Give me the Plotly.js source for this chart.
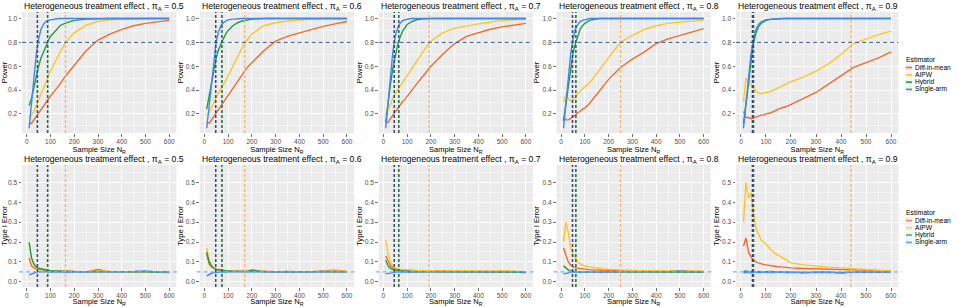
<!DOCTYPE html>
<html><head><meta charset="utf-8">
<script src="https://cdn.plot.ly/plotly-3.0.1.min.js"></script>
<style>html,body{margin:0;padding:0;background:#fff}#chart{width:959px;height:307px}</style>
</head><body><div id="chart"></div>
<script>
// ---------------- DATA ----------------
const sampleSize = [10,20,30,40,50,60,70,80,90,100,120,140,160,180,200,250,300,350,400,450,500,550,600];
const piA = ['0.5','0.6','0.7','0.8','0.9'];
const estimators = ['Diff-in-mean','AIPW','Hybrid','Single-arm'];
const xTicks = [0,100,200,300,400,500,600];
const powerTicks = [0.2,0.4,0.6,0.8,1.0];
const errorTicks = [0.0,0.1,0.2,0.3,0.4,0.5];

// Power, pi_A = 0.5
const power05_diff   = [0.12,0.12,0.15,0.18,0.21,0.24,0.27,0.30,0.33,0.35,0.40,0.45,0.51,0.56,0.61,0.73,0.82,0.87,0.91,0.94,0.96,0.975,0.985];
const power05_aipw   = [0.17,0.19,0.22,0.27,0.32,0.37,0.42,0.47,0.52,0.56,0.64,0.72,0.79,0.84,0.88,0.945,0.975,0.99,0.995,1,1,1,1];
const power05_hybrid = [0.27,0.33,0.42,0.52,0.60,0.67,0.72,0.77,0.81,0.85,0.90,0.94,0.96,0.975,0.985,0.995,1,1,1,1,1,1,1];
const power05_single = [0.08,0.28,0.50,0.70,0.83,0.91,0.95,0.975,0.985,0.99,0.996,1,1,1,1,1,1,1,1,1,1,1,1];
// Power, pi_A = 0.6
const power06_diff   = [0.13,0.12,0.15,0.18,0.21,0.24,0.27,0.29,0.32,0.35,0.41,0.47,0.53,0.59,0.63,0.73,0.81,0.85,0.88,0.91,0.935,0.955,0.975];
const power06_aipw   = [0.19,0.21,0.25,0.30,0.34,0.38,0.41,0.44,0.48,0.52,0.60,0.68,0.76,0.82,0.87,0.94,0.965,0.98,0.99,0.995,1,1,1];
const power06_hybrid = [0.24,0.35,0.47,0.58,0.67,0.74,0.79,0.83,0.87,0.90,0.94,0.965,0.98,0.99,0.995,1,1,1,1,1,1,1,1];
const power06_single = [0.08,0.27,0.47,0.67,0.81,0.89,0.94,0.965,0.98,0.99,0.995,1,1,1,1,1,1,1,1,1,1,1,1];
// Power, pi_A = 0.7
const power07_diff   = [0.13,0.13,0.16,0.19,0.22,0.25,0.28,0.30,0.32,0.35,0.40,0.45,0.50,0.56,0.60,0.70,0.79,0.85,0.88,0.91,0.93,0.945,0.96];
const power07_aipw   = [0.19,0.24,0.29,0.33,0.37,0.40,0.43,0.46,0.50,0.53,0.58,0.64,0.70,0.76,0.81,0.88,0.92,0.94,0.955,0.97,0.985,0.99,0.995];
const power07_hybrid = [0.13,0.30,0.45,0.58,0.69,0.78,0.84,0.89,0.92,0.95,0.975,0.99,0.995,1,1,1,1,1,1,1,1,1,1];
const power07_single = [0.08,0.30,0.52,0.72,0.85,0.92,0.96,0.98,0.99,0.995,1,1,1,1,1,1,1,1,1,1,1,1,1];
// Power, pi_A = 0.8
const power08_diff   = [0.18,0.15,0.15,0.16,0.18,0.19,0.21,0.22,0.24,0.25,0.29,0.34,0.39,0.44,0.49,0.59,0.66,0.72,0.79,0.83,0.86,0.89,0.915];
const power08_aipw   = [0.30,0.36,0.33,0.31,0.32,0.35,0.37,0.39,0.41,0.43,0.46,0.51,0.565,0.62,0.67,0.80,0.86,0.91,0.94,0.96,0.97,0.98,0.985];
const power08_hybrid = [0.14,0.28,0.44,0.59,0.71,0.79,0.86,0.91,0.94,0.96,0.985,0.995,1,1,1,1,1,1,1,1,1,1,1];
const power08_single = [0.08,0.28,0.50,0.70,0.83,0.91,0.95,0.975,0.985,0.99,1,1,1,1,1,1,1,1,1,1,1,1,1];
// Power, pi_A = 0.9
const power09_diff   = [0.22,0.17,0.17,0.16,0.165,0.175,0.18,0.19,0.19,0.20,0.21,0.23,0.25,0.26,0.28,0.33,0.38,0.45,0.52,0.59,0.63,0.67,0.72];
const power09_aipw   = [0.30,0.50,0.47,0.44,0.41,0.39,0.375,0.37,0.375,0.38,0.39,0.41,0.43,0.45,0.47,0.51,0.56,0.62,0.70,0.79,0.83,0.865,0.895];
const power09_hybrid = [0.12,0.27,0.45,0.64,0.79,0.88,0.93,0.96,0.975,0.985,0.993,0.997,1,1,1,1,1,1,1,1,1,1,1];
const power09_single = [0.08,0.28,0.50,0.70,0.83,0.91,0.95,0.97,0.98,0.99,0.995,1,1,1,1,1,1,1,1,1,1,1,1];

// Type I error, pi_A = 0.5
const error05_diff   = [0.12,0.08,0.07,0.065,0.062,0.06,0.058,0.056,0.055,0.054,0.056,0.055,0.052,0.053,0.05,0.05,0.062,0.05,0.05,0.048,0.05,0.05,0.045];
const error05_aipw   = [0.19,0.12,0.085,0.07,0.065,0.062,0.06,0.058,0.056,0.055,0.054,0.052,0.053,0.051,0.05,0.05,0.055,0.052,0.05,0.05,0.05,0.05,0.048];
const error05_hybrid = [0.20,0.12,0.09,0.075,0.068,0.065,0.062,0.06,0.058,0.056,0.055,0.053,0.052,0.054,0.05,0.05,0.052,0.05,0.051,0.05,0.05,0.048,0.05];
const error05_single = [0.035,0.04,0.045,0.048,0.05,0.049,0.05,0.051,0.048,0.05,0.049,0.051,0.05,0.048,0.05,0.049,0.05,0.051,0.05,0.052,0.055,0.05,0.05];
// Type I error, pi_A = 0.6
const error06_diff   = [0.14,0.09,0.075,0.068,0.064,0.06,0.058,0.057,0.056,0.055,0.055,0.054,0.056,0.053,0.055,0.052,0.05,0.048,0.05,0.05,0.055,0.058,0.052];
const error06_aipw   = [0.17,0.11,0.085,0.072,0.065,0.062,0.06,0.058,0.056,0.055,0.054,0.053,0.052,0.053,0.054,0.052,0.05,0.05,0.05,0.052,0.053,0.055,0.052];
const error06_hybrid = [0.15,0.10,0.08,0.068,0.062,0.06,0.058,0.056,0.055,0.054,0.053,0.052,0.05,0.052,0.06,0.05,0.05,0.052,0.05,0.05,0.052,0.05,0.05];
const error06_single = [0.03,0.038,0.043,0.046,0.048,0.05,0.049,0.05,0.048,0.05,0.05,0.049,0.05,0.051,0.048,0.05,0.049,0.05,0.05,0.051,0.052,0.05,0.05];
// Type I error, pi_A = 0.7
const error07_diff   = [0.13,0.10,0.08,0.07,0.065,0.062,0.06,0.06,0.058,0.058,0.057,0.056,0.056,0.055,0.055,0.054,0.054,0.053,0.053,0.052,0.052,0.05,0.045];
const error07_aipw   = [0.21,0.14,0.10,0.08,0.07,0.066,0.064,0.062,0.06,0.06,0.058,0.057,0.056,0.055,0.055,0.054,0.056,0.055,0.053,0.054,0.057,0.053,0.05];
const error07_hybrid = [0.11,0.08,0.068,0.062,0.058,0.056,0.055,0.054,0.053,0.052,0.052,0.051,0.05,0.05,0.05,0.05,0.05,0.05,0.05,0.05,0.05,0.05,0.048];
const error07_single = [0.04,0.042,0.045,0.047,0.048,0.05,0.049,0.05,0.05,0.048,0.05,0.049,0.05,0.05,0.051,0.05,0.05,0.052,0.05,0.05,0.053,0.05,0.05];
// Type I error, pi_A = 0.8
const error08_diff   = [0.17,0.13,0.10,0.085,0.075,0.07,0.068,0.065,0.063,0.062,0.06,0.06,0.058,0.058,0.057,0.056,0.055,0.055,0.055,0.054,0.055,0.054,0.052];
const error08_aipw   = [0.20,0.30,0.25,0.17,0.14,0.12,0.10,0.09,0.085,0.08,0.075,0.07,0.068,0.065,0.063,0.06,0.058,0.055,0.057,0.055,0.055,0.055,0.053];
const error08_hybrid = [0.08,0.07,0.06,0.055,0.052,0.05,0.05,0.048,0.05,0.05,0.049,0.05,0.05,0.048,0.05,0.05,0.05,0.05,0.05,0.05,0.05,0.05,0.048];
const error08_single = [0.04,0.043,0.046,0.048,0.05,0.049,0.05,0.05,0.048,0.05,0.05,0.049,0.05,0.048,0.05,0.05,0.05,0.05,0.05,0.05,0.055,0.05,0.05];
// Type I error, pi_A = 0.9
const error09_diff   = [0.18,0.22,0.15,0.125,0.11,0.10,0.095,0.09,0.088,0.085,0.08,0.077,0.075,0.072,0.07,0.067,0.065,0.063,0.06,0.058,0.057,0.056,0.055];
const error09_aipw   = [0.30,0.50,0.42,0.45,0.34,0.27,0.24,0.21,0.20,0.19,0.16,0.14,0.125,0.11,0.095,0.085,0.078,0.074,0.07,0.065,0.06,0.058,0.055];
const error09_hybrid = [0.05,0.055,0.052,0.05,0.051,0.05,0.052,0.05,0.051,0.05,0.052,0.05,0.05,0.051,0.05,0.045,0.05,0.05,0.044,0.05,0.05,0.05,0.05];
const error09_single = [0.045,0.047,0.048,0.046,0.048,0.049,0.047,0.048,0.046,0.048,0.047,0.048,0.049,0.046,0.047,0.048,0.046,0.048,0.047,0.048,0.048,0.047,0.048];

// Sample size at which each estimator reaches 80% power
const cutoffSingle = [45,48,46,48,46];
const cutoffHybrid = [88,74,65,62,50];
const cutoffAipw   = [163,170,193,250,440];
const powerTarget = 0.8;
const alphaLevel = 0.05;

// --------------- STYLE / LAYOUT ---------------
const powerSeries = [
  [power05_diff,power05_aipw,power05_hybrid,power05_single],
  [power06_diff,power06_aipw,power06_hybrid,power06_single],
  [power07_diff,power07_aipw,power07_hybrid,power07_single],
  [power08_diff,power08_aipw,power08_hybrid,power08_single],
  [power09_diff,power09_aipw,power09_hybrid,power09_single]];
const errorSeries = [
  [error05_diff,error05_aipw,error05_hybrid,error05_single],
  [error06_diff,error06_aipw,error06_hybrid,error06_single],
  [error07_diff,error07_aipw,error07_hybrid,error07_single],
  [error08_diff,error08_aipw,error08_hybrid,error08_single],
  [error09_diff,error09_aipw,error09_hybrid,error09_single]];

const lineColors = ['#F26B2C','#FFC524','#1F9E45','#3C88F2'];
const vColors = {single:'#3B4C72', hybrid:'#21704A', aipw:'#F6B46C'};
const W = 959, H = 307;
const panelPx = [[22.1,176.3],[199.7,354.0],[378.7,532.9],[556.5,710.7],[736.1,898.4]];
const rowPx = [[12,133],[165,287]];
const FONT = 'Liberation Sans, Arial, sans-serif';

const traces = [];
const layout = {
  width: W, height: H, margin:{l:0,r:0,t:0,b:0},
  paper_bgcolor:'#fff', plot_bgcolor:'#EBEBEB',
  showlegend:false, font:{family:FONT, color:'#000'},
  annotations:[], shapes:[]
};

for (let row=0; row<2; row++){
  for (let c=0; c<5; c++){
    const idx = row*5 + c + 1;
    const xn = idx===1 ? 'x' : 'x'+idx;
    const yn = idx===1 ? 'y' : 'y'+idx;
    const xk = idx===1 ? 'xaxis' : 'xaxis'+idx;
    const yk = idx===1 ? 'yaxis' : 'yaxis'+idx;
    const series = row===0 ? powerSeries[c] : errorSeries[c];
    series.forEach((vals,k)=>{
      traces.push({type:'scatter', mode:'lines', x:sampleSize, y:vals, xaxis:xn, yaxis:yn,
        name:estimators[k], line:{color:lineColors[k], width:1.4}, hoverinfo:'skip'});
    });
    const xd = [panelPx[c][0]/W, panelPx[c][1]/W];
    const yd = [1-rowPx[row][1]/H, 1-rowPx[row][0]/H];
    layout[xk] = {domain:xd, anchor:yn, range:[-19.5,629.5], tickvals:xTicks, ticktext:xTicks.map(String),
      ticks:'outside', ticklen:2.5, tickwidth:0.7, tickcolor:'#333',
      tickfont:{size:6.5, color:'#4D4D4D', family:FONT},
      showgrid:true, gridcolor:'#FFFFFF', gridwidth:1,
      minor:{dtick:50, tick0:0, showgrid:true, gridcolor:'#FFFFFF', gridwidth:0.5},
      zeroline:false, showline:false, fixedrange:true,
      title:{text:'Sample Size N<sub>R</sub>', font:{size:7.5, color:'#000', family:FONT}, standoff:1}};
    const ticks = row===0 ? powerTicks : errorTicks;
    layout[yk] = {domain:yd, anchor:xn, range: row===0 ? [0.04,1.055] : [-0.026,0.587],
      tickvals:ticks, ticktext:ticks.map(v=>v.toFixed(1)),
      ticks:'outside', ticklen:2.5, tickwidth:0.7, tickcolor:'#333',
      tickfont:{size:6.6, color:'#4D4D4D', family:FONT},
      showgrid:true, gridcolor:'#FFFFFF', gridwidth:1,
      minor:{dtick: row===0 ? 0.1 : 0.05, tick0:0, showgrid:true, gridcolor:'#FFFFFF', gridwidth:0.5},
      zeroline:false, showline:false, fixedrange:true,
      title:{text: row===0 ? 'Power' : 'Type I Error', font:{size:7.6, color:'#000', family:FONT}, standoff:1}};
    // panel title
    layout.annotations.push({xref:'paper', yref:'paper', x:xd[0], y:1-(row===0?6.5:159)/H,
      xanchor:'left', yanchor:'middle', showarrow:false,
      text:'Heterogeneous treatment effect , π<sub>A</sub> = '+piA[c],
      font:{size:8.6, color:'#000', family:FONT}});
    // vertical cutoff lines
    [[cutoffAipw[c],vColors.aipw,1.3],[cutoffHybrid[c],vColors.hybrid,1.6],[cutoffSingle[c],vColors.single,1.6]].forEach(([xv,col,w])=>{
      layout.shapes.push({type:'line', xref:xn, yref:yn+' domain', x0:xv, x1:xv, y0:0, y1:1,
        line:{color:col, width:w, dash:'3px,2px'}, layer:'above'});
    });
    // horizontal reference line
    if (row===0){
      layout.shapes.push({type:'line', xref:xn+' domain', yref:yn, x0:0, x1:1, y0:powerTarget, y1:powerTarget,
        line:{color:'#3A5A98', width:1, dash:'4px,3px'}, layer:'above'});
    } else {
      layout.shapes.push({type:'line', xref:xn+' domain', yref:yn, x0:-0.02, x1:1.02, y0:alphaLevel, y1:alphaLevel,
        line:{color:'#8CB0DF', width:1.1, dash:'4px,3px'}, layer:'above'});
    }
  }
}

// legends (one per row)
const legendTop = [59.5, 212.5];
const legendStep = 7.3;
for (let row=0; row<2; row++){
  layout.annotations.push({xref:'paper', yref:'paper', x:905/W, y:1-legendTop[row]/H, xanchor:'left', yanchor:'middle',
    showarrow:false, borderpad:0, text:'Estimator', font:{size:6.9, color:'#000', family:FONT}});
  estimators.forEach((name,k)=>{
    const yy = legendTop[row] + 8 + k*legendStep;
    layout.shapes.push({type:'rect', xref:'paper', yref:'paper', x0:905.5/W, x1:912.5/W, y0:1-(yy-3.5)/H, y1:1-(yy+3.5)/H,
      line:{width:0}, fillcolor:'#F2F2F2'});
    layout.shapes.push({type:'line', xref:'paper', yref:'paper', x0:906/W, x1:912/W, y0:1-yy/H, y1:1-yy/H,
      line:{color:lineColors[k], width:1.6}, opacity: row===0 ? 1 : 0.75});
    layout.annotations.push({xref:'paper', yref:'paper', x:914/W, y:1-yy/H, xanchor:'left', yanchor:'middle',
      showarrow:false, borderpad:0, text:name, font:{size:6.6, color:'#000', family:FONT}});
  });
}

Plotly.newPlot('chart', traces, layout, {displayModeBar:false, staticPlot:true});
</script>
</body></html>
